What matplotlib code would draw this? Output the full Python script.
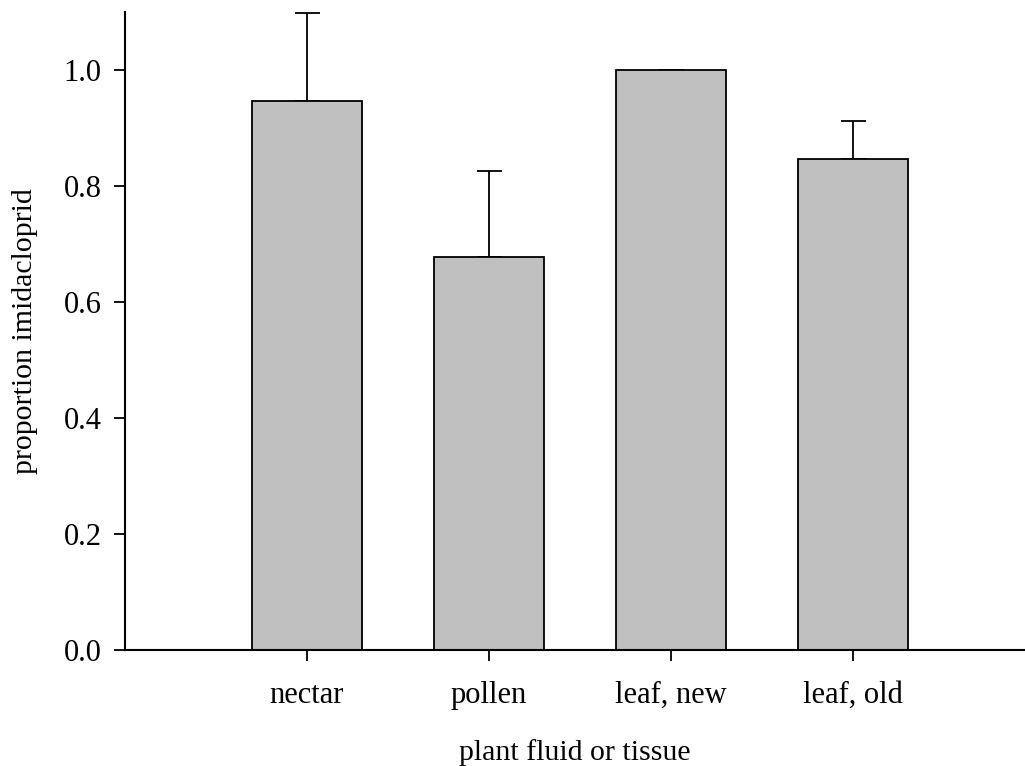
import matplotlib
matplotlib.use("Agg")
import matplotlib.pyplot as plt

# Proportion of imidacloprid by plant fluid / tissue
categories = ["nectar", "pollen", "leaf, new", "leaf, old"]
proportion = [0.946, 0.678, 1.0, 0.847]
error_upper = [0.152, 0.148, 0.0, 0.065]

plt.rcParams["font.family"] = ["Liberation Serif", "DejaVu Serif"]

fig = plt.figure(figsize=(10.25, 7.66), dpi=100)
ax = fig.add_axes([125 / 1025, 116 / 766, 900 / 1025, 638 / 766])

positions = list(range(1, len(categories) + 1))
ax.bar(positions, proportion, width=0.6, color="#c0c0c0",
       edgecolor="black", linewidth=1.3, zorder=2)
ax.errorbar(positions, proportion,
            yerr=[[0] * len(proportion), error_upper],
            fmt="none", ecolor="black", elinewidth=1.3,
            capsize=9, capthick=1.3, zorder=1)

ax.set_xlim(0, 900 / 182)
ax.set_ylim(0, 1.1)
ax.set_xticks(positions)
ax.set_xticklabels(categories)
ax.set_yticks([0.0, 0.2, 0.4, 0.6, 0.8, 1.0])
ax.set_yticklabels(["0.0", "0.2", "0.4", "0.6", "0.8", "1.0"])

for side in ("top", "right"):
    ax.spines[side].set_visible(False)
for side in ("left", "bottom"):
    ax.spines[side].set_linewidth(1.5)

ax.tick_params(axis="both", direction="out", length=8, width=1.3,
               labelsize=22)
ax.tick_params(axis="y", pad=9)
ax.tick_params(axis="x", pad=14)

ax.set_xlabel("plant fluid or tissue", fontsize=21.5, labelpad=21)
ax.set_ylabel("proportion imidacloprid", fontsize=21.5, labelpad=18)

fig.savefig("out.png", dpi=100)
